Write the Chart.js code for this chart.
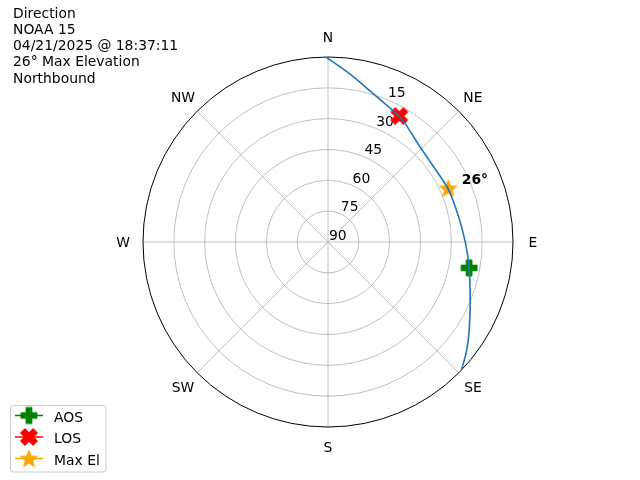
<!DOCTYPE html>
<html>
<head>
<meta charset="utf-8">
<script src="https://cdn.jsdelivr.net/npm/chart.js@4.4.1/dist/chart.umd.min.js"></script>
<style>
  body { margin: 0; background: #fff; }
  #wrap { width: 640px; height: 480px; }
</style>
</head>
<body>
<div id="wrap"><canvas id="polarChart" width="640" height="480"></canvas></div>
<script>
// pass track, azimuth (deg clockwise from N) and elevation (deg)
const trackAz = [-0.6, 7.5, 17.7, 29.5, 33, 44, 54.4, 66.6, 79, 90.5, 100.4, 112, 122, 128, 133.8];
const trackEl = [0, 7.6, 15, 19.7, 21.2, 25.6, 26.9, 26.1, 25.3, 23.1, 20.2, 15.4, 9, 4.4, 0];

const aosPoint = { az: 100.4, el: 20.2 };
const losPoint = { az: 29.5, el: 19.6 };
const maxPoint = { az: 65.9, el: 25.9 };

const titleLines = ['Direction', 'NOAA 15', '04/21/2025 @ 18:37:11', '26° Max Elevation', 'Northbound'];
const compassLabels = ['N', 'NE', 'E', 'SE', 'S', 'SW', 'W', 'NW'];
const ringValues = [0, 15, 30, 45, 60, 75];   // radius = 90 - elevation
const maxElLabel = '26°';

const FONT = '"DejaVu Sans", sans-serif';
const FS = '13.9px ';

function toXY(az, el) {
  const r = 90 - el;
  const a = az * Math.PI / 180;
  return { x: r * Math.sin(a), y: r * Math.cos(a) };
}

// ---- marker glyphs ----
function makeCanvas(size) {
  const c = document.createElement('canvas');
  c.width = size; c.height = size;
  return c;
}

function plusShape(ctx, cx, cy, s, w) {
  ctx.beginPath();
  ctx.moveTo(cx - w, cy - s);
  ctx.lineTo(cx + w, cy - s);
  ctx.lineTo(cx + w, cy - w);
  ctx.lineTo(cx + s, cy - w);
  ctx.lineTo(cx + s, cy + w);
  ctx.lineTo(cx + w, cy + w);
  ctx.lineTo(cx + w, cy + s);
  ctx.lineTo(cx - w, cy + s);
  ctx.lineTo(cx - w, cy + w);
  ctx.lineTo(cx - s, cy + w);
  ctx.lineTo(cx - s, cy - w);
  ctx.lineTo(cx - w, cy - w);
  ctx.closePath();
}

function plusMarker(color, rot) {
  const c = makeCanvas(22);
  const ctx = c.getContext('2d');
  ctx.translate(11, 11);
  ctx.rotate(rot);
  plusShape(ctx, 0, 0, rot ? 8.6 : 7.8, rot ? 2.9 : 2.7);
  ctx.fillStyle = color;
  ctx.strokeStyle = color;
  ctx.lineWidth = 1.3;
  ctx.lineJoin = 'round';
  ctx.fill();
  ctx.stroke();
  return c;
}

function starMarker(color) {
  const c = makeCanvas(22);
  const ctx = c.getContext('2d');
  const R = 9, r = 3.8;
  ctx.beginPath();
  for (let i = 0; i < 10; i++) {
    const rad = i % 2 === 0 ? R : r;
    const a = -Math.PI / 2 + i * Math.PI / 5;
    const x = 11 + rad * Math.cos(a), y = 11.8 + rad * Math.sin(a);
    if (i === 0) ctx.moveTo(x, y); else ctx.lineTo(x, y);
  }
  ctx.closePath();
  ctx.fillStyle = color;
  ctx.strokeStyle = color;
  ctx.lineWidth = 1;
  ctx.fill();
  ctx.stroke();
  return c;
}

const aosGlyph = plusMarker('#008000', 0);
const losGlyph = plusMarker('#ff0000', Math.PI / 4);
const maxGlyph = starMarker('#ffa500');

// ---- polar grid, labels, legend ----
const polarFrame = {
  id: 'polarFrame',
  beforeDatasetsDraw(chart) {
    const ctx = chart.ctx;
    const sx = chart.scales.x, sy = chart.scales.y;
    const cx = sx.getPixelForValue(0), cy = sy.getPixelForValue(0);
    const unit = sx.getPixelForValue(1) - cx;
    const R = 90 * unit;
    ctx.save();
    ctx.strokeStyle = '#b0b0b0';
    ctx.lineWidth = 0.8;
    ringValues.slice(1).forEach(v => {
      ctx.beginPath();
      ctx.arc(cx, cy, v * unit, 0, Math.PI * 2);
      ctx.stroke();
    });
    for (let i = 0; i < 8; i++) {
      const a = i * Math.PI / 4;
      ctx.beginPath();
      ctx.moveTo(cx, cy);
      ctx.lineTo(cx + R * Math.sin(a), cy - R * Math.cos(a));
      ctx.stroke();
    }
    ctx.strokeStyle = '#000';
    ctx.lineWidth = 1;
    ctx.beginPath();
    ctx.arc(cx, cy, R, 0, Math.PI * 2);
    ctx.stroke();

    ctx.fillStyle = '#000';
    ctx.font = FS + FONT;
    ctx.textAlign = 'center';
    ctx.textBaseline = 'middle';
    compassLabels.forEach((lab, i) => {
      const a = i * Math.PI / 4;
      ctx.fillText(lab, cx + (R + 20) * Math.sin(a), cy - (R + 20) * Math.cos(a) + 1.5);
    });

    ctx.textAlign = 'left';
    ctx.textBaseline = 'bottom';
    const la = 22.5 * Math.PI / 180;
    ringValues.forEach(v => {
      ctx.fillText(String(90 - v), cx + v * unit * Math.sin(la) + 1, cy - v * unit * Math.cos(la) + 1);
    });
    ctx.restore();
  },
  afterDraw(chart) {
    const ctx = chart.ctx;
    ctx.save();
    ctx.fillStyle = '#000';
    ctx.font = FS + FONT;
    ctx.textAlign = 'left';
    ctx.textBaseline = 'alphabetic';
    titleLines.forEach((t, i) => ctx.fillText(t, 13, 17.5 + i * 16.25));

    // max elevation annotation
    const p = chart.getDatasetMeta(3).data[0];
    ctx.font = 'bold ' + FS + FONT;
    ctx.fillText(maxElLabel, p.x + 13.5, p.y - 4.5);

    // legend box
    ctx.fillStyle = 'rgba(255,255,255,0.8)';
    ctx.strokeStyle = '#cccccc';
    ctx.lineWidth = 1;
    ctx.beginPath();
    ctx.roundRect(10.5, 405.5, 95.5, 66.5, 3);
    ctx.fill();
    ctx.stroke();
    const items = chart.data.datasets.slice(1);
    items.forEach((ds, i) => {
      const y = 415.5 + i * 21.5;
      ctx.strokeStyle = ds.borderColor;
      ctx.lineWidth = 1.5;
      ctx.beginPath();
      ctx.moveTo(15, y);
      ctx.lineTo(43, y);
      ctx.stroke();
      ctx.drawImage(ds.pointStyle, 29 - 11, y - 11);
      ctx.fillStyle = '#000';
      ctx.font = FS + FONT;
      ctx.fillText(ds.label, 54, y + 6.3);
    });
    ctx.restore();
  }
};

new Chart(document.getElementById('polarChart'), {
  type: 'scatter',
  data: {
    datasets: [
      {
        label: 'Track',
        data: trackAz.map((az, i) => toXY(az, trackEl[i])),
        showLine: true,
        borderColor: '#1f77b4',
        borderWidth: 1.6,
        pointRadius: 0,
        tension: 0.3
      },
      {
        label: 'AOS',
        data: [toXY(aosPoint.az, aosPoint.el)],
        borderColor: '#008000',
        pointStyle: aosGlyph
      },
      {
        label: 'LOS',
        data: [toXY(losPoint.az, losPoint.el)],
        borderColor: '#ff0000',
        pointStyle: losGlyph
      },
      {
        label: 'Max El',
        data: [toXY(maxPoint.az, maxPoint.el)],
        borderColor: '#ffa500',
        pointStyle: maxGlyph
      }
    ]
  },
  options: {
    responsive: false,
    animation: false,
    layout: { padding: { left: 143, right: 127, top: 57, bottom: 53 } },
    plugins: {
      legend: { display: false },
      tooltip: { enabled: false }
    },
    scales: {
      x: { type: 'linear', min: -90, max: 90, display: false },
      y: { type: 'linear', min: -90, max: 90, display: false }
    }
  },
  plugins: [polarFrame]
});
</script>
</body>
</html>
